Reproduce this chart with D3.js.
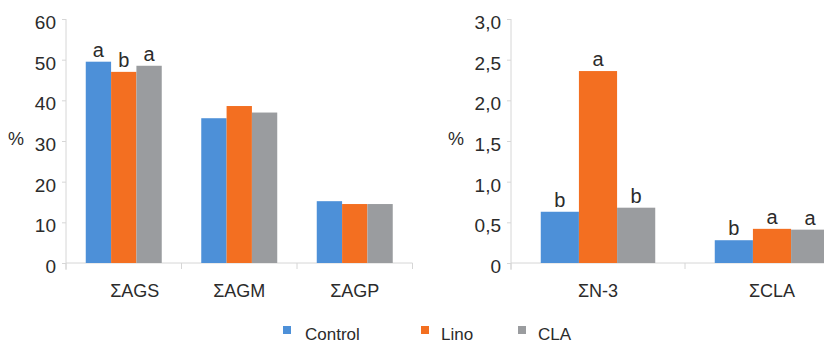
<!DOCTYPE html>
<html>
<head>
<meta charset="utf-8">
<script src="https://cdn.jsdelivr.net/npm/d3@7/dist/d3.min.js"></script>
<style>
  html, body { margin: 0; padding: 0; background: #fff; }
  svg { display: block; font-family: "Liberation Sans", Arial, sans-serif; }
</style>
</head>
<body>
<svg id="chart" width="824" height="343"></svg>
<script>
// Series (treatments)
const series = ["Control", "Lino", "CLA"];
const colors = ["#4d90d8", "#f36f21", "#9a9c9f"];

// Left panel: fatty acid groups
const leftCategories = ["ΣAGS", "ΣAGM", "ΣAGP"];
const leftControl = [49.5, 35.6, 15.2];
const leftLino    = [47.0, 38.6, 14.5];
const leftCLA     = [48.5, 37.0, 14.5];
const leftLetters = [["a", "b", "a"], ["", "", ""], ["", "", ""]];
const leftTicks = [0, 10, 20, 30, 40, 50, 60];

// Right panel: n-3 and CLA totals
const rightCategories = ["ΣN-3", "ΣCLA"];
const rightControl = [0.63, 0.28];
const rightLino    = [2.36, 0.42];
const rightCLA     = [0.68, 0.41];
const rightLetters = [["b", "a", "b"], ["b", "a", "a"]];
const rightTicks = [0, 0.5, 1.0, 1.5, 2.0, 2.5, 3.0];

const svg = d3.select("#chart");
const axisColor = "#d6d6d6";
const textColor = "#2b2b2b";

function drawPanel(opts) {
  const { categories, values, letters, ticks, yMax, x0, x1, fmt, pctX, labelShift } = opts;
  const g = svg.append("g");

  const y = d3.scaleLinear().domain([0, yMax]).range([263, 19]);
  const x = d3.scaleBand().domain(categories).range([x0, x1]).padding(0);
  const xs = d3.scaleBand().domain(series).range([0, x.bandwidth()])
    .paddingInner(0).paddingOuter(0.78);

  // y axis
  const yAxis = g.append("g").attr("transform", `translate(${x0},0)`)
    .call(d3.axisLeft(y).tickValues(ticks).tickSize(4).tickPadding(6).tickFormat(fmt));
  yAxis.select(".domain").attr("stroke", axisColor).attr("d", `M0,${y(yMax)}V${y(0) + 7}`);
  yAxis.selectAll(".tick line").attr("stroke", axisColor);
  yAxis.selectAll(".tick text")
    .attr("fill", textColor).attr("font-size", 19).attr("dy", "0.5em");

  // x axis with tick marks at band boundaries
  const bounds = categories.map(c => x(c)).concat([x1]);
  g.append("line")
    .attr("x1", x0).attr("x2", x1).attr("y1", y(0)).attr("y2", y(0))
    .attr("stroke", axisColor);
  g.selectAll("line.xt").data(bounds).join("line").attr("class", "xt")
    .attr("x1", d => d).attr("x2", d => d)
    .attr("y1", y(0)).attr("y2", y(0) + 6)
    .attr("stroke", axisColor);

  // category labels
  g.selectAll("text.cat").data(categories).join("text").attr("class", "cat")
    .attr("x", (d, i) => x(d) + x.bandwidth() / 2 + (labelShift[i] || 0))
    .attr("y", 297)
    .attr("text-anchor", "middle")
    .attr("font-size", 18)
    .attr("fill", textColor)
    .text(d => d);

  // bars
  const rows = categories.map((c, i) => series.map((s, j) => ({
    cat: c, s, j, v: values[j][i], letter: letters[i][j]
  })));
  const grp = g.selectAll("g.grp").data(rows).join("g").attr("class", "grp")
    .attr("transform", (d, i) => `translate(${x(categories[i])},0)`);
  grp.selectAll("rect").data(d => d).join("rect")
    .attr("x", d => xs(d.s))
    .attr("width", xs.bandwidth())
    .attr("y", d => y(d.v))
    .attr("height", d => y(0) - y(d.v))
    .attr("fill", d => colors[d.j]);
  grp.selectAll("text").data(d => d.filter(e => e.letter)).join("text")
    .attr("x", d => xs(d.s) + xs.bandwidth() / 2)
    .attr("y", d => y(d.v) - 5)
    .attr("text-anchor", "middle")
    .attr("font-size", 20)
    .attr("fill", textColor)
    .text(d => d.letter);

  // unit label
  g.append("text")
    .attr("x", pctX).attr("y", 145)
    .attr("text-anchor", "middle")
    .attr("font-size", 18)
    .attr("fill", textColor)
    .text("%");
}

drawPanel({
  categories: leftCategories,
  values: [leftControl, leftLino, leftCLA],
  letters: leftLetters,
  ticks: leftTicks,
  yMax: 60,
  x0: 66, x1: 412.5,
  fmt: d3.format("d"),
  pctX: 16,
  labelShift: [11, 0, 0]
});

const commaFmt = d => d === 0 ? "0" : d.toFixed(1).replace(".", ",");
drawPanel({
  categories: rightCategories,
  values: [rightControl, rightLino, rightCLA],
  letters: rightLetters,
  ticks: rightTicks,
  yMax: 3,
  x0: 511, x1: 859,
  fmt: commaFmt,
  pctX: 456,
  labelShift: [0, 0]
});

// legend
const legendX = [283, 421, 518];
const leg = svg.append("g");
const items = leg.selectAll("g").data(series).join("g")
  .attr("transform", (d, i) => `translate(${legendX[i]},326)`);
items.append("rect").attr("width", 8).attr("height", 8)
  .attr("fill", (d, i) => colors[i]);
items.append("text")
  .attr("x", (d, i) => i === 0 ? 22 : 20)
  .attr("y", 14)
  .attr("font-size", 17)
  .attr("fill", textColor)
  .text(d => d);
</script>
</body>
</html>
